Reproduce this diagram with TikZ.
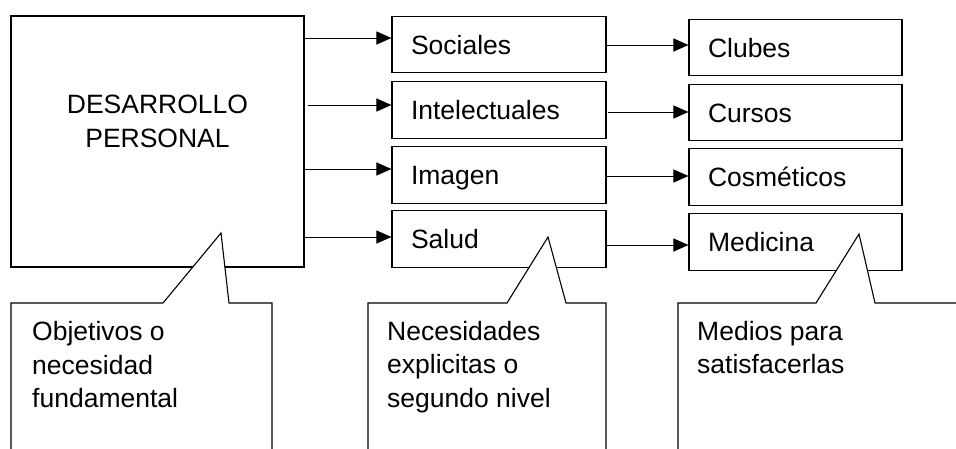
\documentclass[tikz,border=0pt]{standalone}
\usepackage{fontspec}
\setmainfont{Liberation Sans}
\usetikzlibrary{arrows.meta}
\newcommand\dfont{\fontsize{26.5}{33.5}\selectfont}
\begin{document}
\begin{tikzpicture}[x=1pt,y=-1pt,
  box/.style={draw, line width=1.1pt, minimum height=56.5pt, align=left,
    inner xsep=19pt, inner ysep=0pt, text height=19pt, text depth=0pt, font=\dfont},
  midbox/.style={box, text width=176pt},
  rbox/.style={box, text width=175pt},
  arr/.style={line width=1pt, -{Triangle[length=15pt,width=13pt]}},
  callout/.style={draw, fill=white, line width=1.1pt},
  txt/.style={align=left, inner sep=0pt, font=\dfont, anchor=base west}]
\useasboundingbox (0,0) rectangle (956,448);
\clip (0,0) rectangle (956,448);
% main box
\node[draw, line width=1.1pt, minimum width=293pt, minimum height=251pt, inner sep=0pt] (main) at (157.5,141.5) {};
\node[align=center, inner sep=0pt, font=\fontsize{26.5}{34}\selectfont, anchor=base] (maintxt) at (157.5,147) {DESARROLLO\\PERSONAL};
% middle boxes
\node[midbox] (soc) at (499,44.5) {Sociales};
\node[midbox] (int) at (499,110) {Intelectuales};
\node[midbox] (ima) at (499,175) {Imagen};
\node[midbox] (sal) at (499,239) {Salud};
% right boxes
\node[rbox] (clu) at (795.5,47.5) {Clubes};
\node[rbox] (cur) at (795.5,112.5) {Cursos};
\node[rbox] (cos) at (795.5,177) {Cosméticos};
\node[rbox] (med) at (795.5,242) {Medicina};
% arrows first level
\draw[arr] ([yshift=6.5pt]soc.west -| main.east) -- ([yshift=6.5pt]soc.west);
\draw[arr] ([yshift=5pt,xshift=3pt]int.west -| main.east) -- ([yshift=5pt]int.west);
\draw[arr] ([yshift=6pt]ima.west -| main.east) -- ([yshift=6pt]ima.west);
\draw[arr] ([yshift=2pt]sal.west -| main.east) -- ([yshift=2pt]sal.west);
% arrows second level
\draw[arr] ([yshift=2.5pt]clu.west -| soc.east) -- ([yshift=2.5pt]clu.west);
\draw[arr] ([yshift=0.5pt,xshift=1pt]cur.west -| int.east) -- ([yshift=0.5pt]cur.west);
\draw[arr] ([yshift=1pt]cos.west -| ima.east) -- ([yshift=1pt]cos.west);
\draw[arr] ([yshift=-3pt]med.west -| sal.east) -- ([yshift=-3pt]med.west);
% callouts
\draw[callout] (11,470) -- (11,303) -- (163,303) -- (221,233) -- (229,303) -- (272,303) -- (272,470);
\draw[callout] (368,470) -- (368,303) -- (507,303) -- (548,237) -- (566,303) -- (606,303) -- (606,470);
\draw[callout] (678,470) -- (678,303) -- (816,303) -- (859,234) -- (875,303) -- (975,303) -- (975,470);
\node[txt] (c1) at (32,407.5) {Objetivos o\\necesidad\\fundamental};
\node[txt] (c2) at (387,407) {Necesidades\\explicitas o\\segundo nivel};
\node[txt] (c3) at (697,373.5) {Medios para\\satisfacerlas};
\end{tikzpicture}
\end{document}
